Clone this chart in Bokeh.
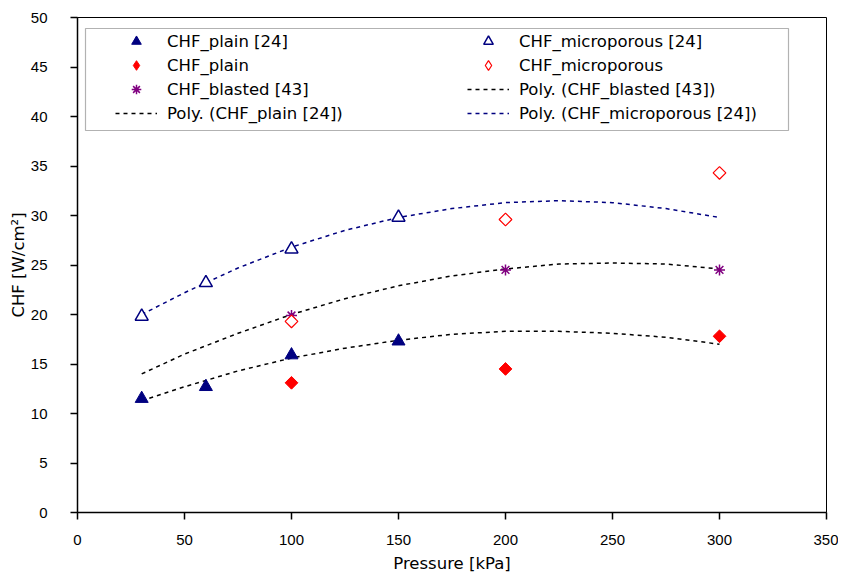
import math
from bokeh.plotting import figure
from bokeh.models import Legend, LegendItem, BoxAnnotation, Range1d, FixedTicker
from bokeh.embed import file_html
from bokeh.resources import INLINE

# ---- data ----
pressure_plain24 = [30, 60, 100, 150]
chf_plain24 = [11.5, 12.7, 15.9, 17.3]
pressure_micro24 = [30, 60, 100, 150]
chf_micro24 = [19.8, 23.2, 26.6, 29.8]
pressure_present = [100, 200, 300]
chf_plain = [13.1, 14.5, 17.8]
chf_micro = [19.3, 29.6, 34.3]
pressure_blasted = [100, 200, 300]
chf_blasted = [19.9, 24.5, 24.5]

trend_x = [30, 50, 75, 100, 125, 150, 175, 200, 225, 250, 275, 300]
poly_plain24 = [11.3, 12.7, 14.3, 15.6, 16.6, 17.4, 18.0, 18.3, 18.3, 18.1, 17.7, 17.0]
poly_blasted = [14.0, 16.0, 18.1, 20.0, 21.6, 22.9, 23.9, 24.6, 25.1, 25.2, 25.1, 24.6]
poly_micro24 = [20.0, 22.2, 24.7, 26.8, 28.5, 29.8, 30.7, 31.3, 31.5, 31.3, 30.7, 29.8]

x_ticks = [0, 50, 100, 150, 200, 250, 300, 350]
y_ticks = [0, 5, 10, 15, 20, 25, 30, 35, 40, 45, 50]

TICK_FONT = "Liberation Sans"
TEXT_FONT = "DejaVu Sans"
NAVY = "#000080"
RED = "#FF0000"
PURPLE = "#800080"

p = figure(width=838, height=576, output_backend="svg", toolbar_location=None,
           x_range=Range1d(0, 350), y_range=Range1d(0, 50),
           min_border_left=77, min_border_right=12, min_border_top=17, min_border_bottom=64)
p.xgrid.visible = False
p.ygrid.visible = False
p.outline_line_color = "black"
p.outline_line_width = 1
p.background_fill_color = "white"
p.border_fill_color = "white"

for ax in (p.xaxis[0], p.yaxis[0]):
    ax.axis_line_color = "black"
    ax.axis_line_width = 1.5
    ax.major_tick_line_color = "black"
    ax.major_tick_line_width = 1.5
    ax.major_tick_out = 7
    ax.major_tick_in = 0
    ax.minor_tick_line_color = None
    ax.major_label_text_font = TICK_FONT
    ax.major_label_text_font_size = "15px"
    ax.major_label_text_color = "black"
    ax.axis_label_text_font = TEXT_FONT
    ax.axis_label_text_font_size = "16.5px"
    ax.axis_label_text_font_style = "normal"
    ax.axis_label_text_color = "black"

p.xaxis.ticker = FixedTicker(ticks=x_ticks)
p.yaxis.ticker = FixedTicker(ticks=y_ticks)
p.xaxis.axis_label = "Pressure [kPa]"
p.yaxis.axis_label = "CHF [W/cm\u00b2]"
p.xaxis.major_label_standoff = 15
p.yaxis.major_label_standoff = 23
p.xaxis.axis_label_standoff = 6
p.yaxis.axis_label_standoff = 0

# trend lines
l_plain24 = p.line(trend_x, poly_plain24, line_color="black", line_dash="4 4", line_width=1.5)
l_blasted = p.line(trend_x, poly_blasted, line_color="black", line_dash="4 4", line_width=1.5)
l_micro24 = p.line(trend_x, poly_micro24, line_color=NAVY, line_dash="4 4", line_width=1.5)

# markers
m_plain24 = p.scatter(pressure_plain24, chf_plain24, marker="triangle", size=13,
                      fill_color=NAVY, line_color=NAVY)
m_micro24 = p.scatter(pressure_micro24, chf_micro24, marker="triangle", size=13,
                      fill_color="white", line_color=NAVY, line_width=1.5)
m_blasted = p.scatter(pressure_blasted, chf_blasted, marker="asterisk", size=11,
                      line_color=PURPLE, line_width=1.5)
# narrow diamonds (used for the legend symbol), covered by the rotated squares below
d_plain = p.scatter(pressure_present, chf_plain, marker="diamond", size=11,
                    fill_color=RED, line_color=RED)
d_micro = p.scatter(pressure_present, chf_micro, marker="diamond", size=11,
                    fill_color="white", line_color=RED, line_width=1.2)
p.scatter(pressure_present, chf_plain, marker="square", size=9, angle=math.pi / 4,
          fill_color=RED, line_color=RED)
p.scatter(pressure_present, chf_micro, marker="square", size=9, angle=math.pi / 4,
          fill_color="white", line_color=RED, line_width=1.2)

# legend box (screen pixels, relative to the plot frame)
box = BoxAnnotation(left=8, right=711, bottom=382, top=484,
                    left_units="screen", right_units="screen",
                    bottom_units="screen", top_units="screen",
                    fill_color="white", fill_alpha=1.0, line_color="black", line_width=1.2)
p.add_layout(box)

def make_legend(items, loc):
    return Legend(items=items, location=loc, orientation="vertical",
                  padding=0, spacing=0, glyph_width=42, glyph_height=24, label_height=24,
                  label_standoff=10, label_text_font=TEXT_FONT, label_text_font_size="16.5px",
                  label_text_color="black", border_line_color=None, background_fill_alpha=0,
                  margin=0)

left_items = [
    LegendItem(label="CHF_plain [24]", renderers=[m_plain24]),
    LegendItem(label="CHF_plain", renderers=[d_plain]),
    LegendItem(label="CHF_blasted [43]", renderers=[m_blasted]),
    LegendItem(label="Poly. (CHF_plain [24])", renderers=[l_plain24]),
]
right_items = [
    LegendItem(label="CHF_microporous [24]", renderers=[m_micro24]),
    LegendItem(label="CHF_microporous", renderers=[d_micro]),
    LegendItem(label="Poly. (CHF_blasted [43])", renderers=[l_blasted]),
    LegendItem(label="Poly. (CHF_microporous [24])", renderers=[l_micro24]),
]
p.add_layout(make_legend(left_items, (38, 387)))
p.add_layout(make_legend(right_items, (390, 387)))

open("out.html", "w").write(file_html(p, INLINE))
